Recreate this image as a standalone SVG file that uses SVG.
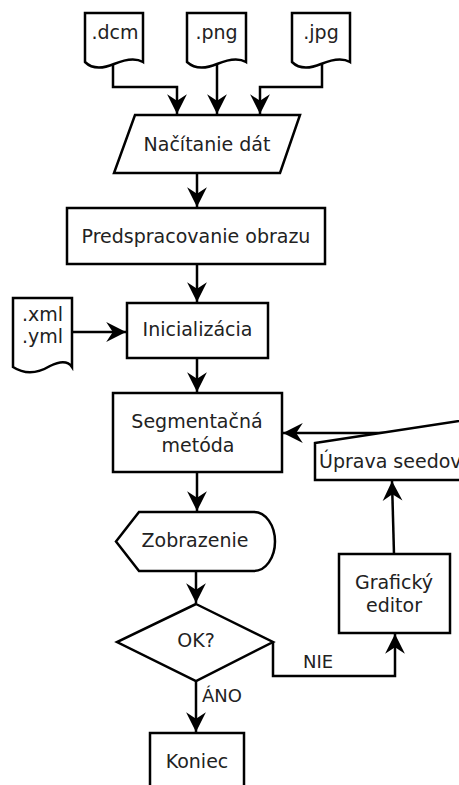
<svg xmlns="http://www.w3.org/2000/svg" width="459" height="785" viewBox="0 0 459 785">
<style>
.s{fill:#fff;stroke:#000;stroke-width:2.5;stroke-linejoin:miter}
.c{fill:none;stroke:#000;stroke-width:2.5}
.t{font-family:"DejaVu Sans","Liberation Sans",sans-serif;font-size:19px;fill:#222;text-anchor:middle}
.l{font-family:"DejaVu Sans","Liberation Sans",sans-serif;font-size:18px;fill:#222}
</style>
<defs>
<marker id="a" markerUnits="userSpaceOnUse" markerWidth="22" markerHeight="22" viewBox="-19 -10 20 20" refX="0" refY="0" orient="auto">
<path d="M0,0 L-18,-9 L-12,0 L-18,9 Z" fill="#000"/>
</marker>
</defs>
<rect width="459" height="785" fill="#fff"/>
<g id="connectors">
<polyline class="c" points="113,64 113,87 177,87 177,114" marker-end="url(#a)"/>
<polyline class="c" points="217,64 217,114" marker-end="url(#a)"/>
<polyline class="c" points="322,62 322,87 260,87 260,114" marker-end="url(#a)"/>
<line class="c" x1="197" y1="173" x2="197" y2="207" marker-end="url(#a)"/>
<line class="c" x1="197" y1="264" x2="197" y2="302" marker-end="url(#a)"/>
<line class="c" x1="72" y1="332" x2="126" y2="332" marker-end="url(#a)"/>
<line class="c" x1="197" y1="358" x2="197" y2="392" marker-end="url(#a)"/>
<line class="c" x1="197" y1="472" x2="197" y2="511" marker-end="url(#a)"/>
<line class="c" x1="196" y1="571" x2="196" y2="603" marker-end="url(#a)"/>
<line class="c" x1="196" y1="681" x2="196" y2="732" marker-end="url(#a)"/>
<polyline class="c" points="273,642 273,676 395,676 395,634" marker-end="url(#a)"/>
<line class="c" x1="394" y1="554" x2="392" y2="481" marker-end="url(#a)"/>
<line class="c" x1="540" y1="433" x2="283" y2="433" marker-end="url(#a)"/>
<text class="l" x="303" y="668">NIE</text>
<text class="l" x="202" y="702">ÁNO</text>
</g>
<g id="dcm">
<path class="s" d="M85,13 H143 V62 Q133,56 114,64 Q95,72 85,62 Z"/>
<text class="t" x="115" y="39">.dcm</text>
</g>
<g id="png">
<path class="s" d="M187,13 H246 V62 Q236,56 217,64 Q198,72 187,62 Z"/>
<text class="t" x="216.5" y="39">.png</text>
</g>
<g id="jpg">
<path class="s" d="M292,13 H350 V62 Q340,56 321,64 Q302,72 292,62 Z"/>
<text class="t" x="321" y="39">.jpg</text>
</g>
<g id="nacitanie">
<polygon class="s" points="135,115 300,115 280,173 114,173"/>
<text class="t" x="207" y="151">Načítanie dát</text>
</g>
<g id="predspracovanie">
<rect class="s" x="67" y="208" width="258" height="56"/>
<text class="t" x="196" y="243">Predspracovanie obrazu</text>
</g>
<g id="xml">
<path class="s" d="M13,298 H72 V367 Q66,358 50,366 Q30,378 13,367 Z"/>
<text class="t" x="42.5" y="321">.xml</text>
<text class="t" x="42.5" y="343">.yml</text>
</g>
<g id="inicializacia">
<rect class="s" x="127" y="303" width="141" height="55"/>
<text class="t" x="197.5" y="336">Inicializácia</text>
</g>
<g id="segmentacna">
<rect class="s" x="113" y="393" width="169" height="79"/>
<text class="t" x="197" y="428">Segmentačná</text>
<text class="t" x="198" y="452">metóda</text>
</g>
<g id="uprava">
<polygon class="s" points="315,443 540,408.6 540,480 315,480"/>
<text class="t" x="319" y="468" style="text-anchor:start">Úprava seedov</text>
</g>
<g id="zobrazenie">
<path class="s" d="M139,512 H254 A21,29.5 0 0 1 254,571 H139 L116,541.5 Z"/>
<text class="t" x="195" y="547">Zobrazenie</text>
</g>
<g id="ok">
<polygon class="s" points="196,604 273,642 196,681 117,642"/>
<text class="t" x="196" y="647">OK?</text>
</g>
<g id="graficky">
<rect class="s" x="339" y="554" width="111" height="79"/>
<text class="t" x="394" y="589">Grafický</text>
<text class="t" x="394" y="612">editor</text>
</g>
<g id="koniec">
<rect class="s" x="150" y="733" width="94" height="70"/>
<text class="t" x="197" y="768">Koniec</text>
</g>
</svg>
